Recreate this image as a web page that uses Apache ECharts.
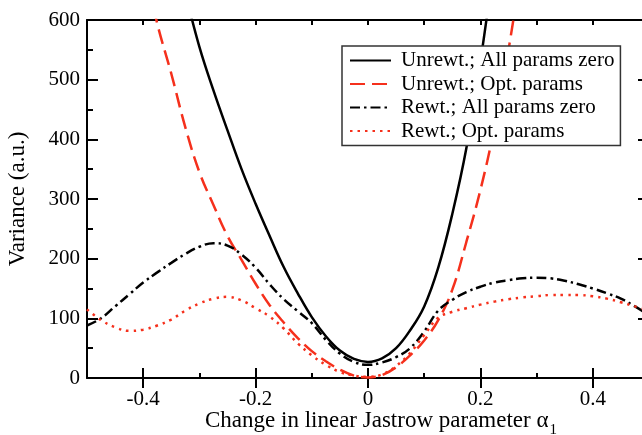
<!DOCTYPE html>
<html>
<head>
<meta charset="utf-8">
<title>Variance vs linear Jastrow parameter</title>
<script src="https://cdn.jsdelivr.net/npm/echarts@6/dist/echarts.min.js"></script>
<style>
  html, body { margin: 0; padding: 0; background: #fff; }
  #chart { width: 642px; height: 435px; }
</style>
</head>
<body>
<div id="chart"></div>
<script>
// change in alpha_1
const alpha = [-0.5, -0.475, -0.45, -0.425, -0.4, -0.375, -0.35, -0.325, -0.3, -0.275,
  -0.25, -0.225, -0.2, -0.175, -0.15, -0.125, -0.1, -0.075, -0.05, -0.025,
  0, 0.025, 0.05, 0.075, 0.1, 0.125, 0.15, 0.175, 0.2, 0.225,
  0.25, 0.275, 0.3, 0.325, 0.35, 0.375, 0.4, 0.425, 0.45, 0.475, 0.5]

// Unrewt.; All params zero
const unrewZero = [null, null, null, null, null, null, 740, 645, 555, 482,
  415, 350, 292, 238, 186, 142, 102, 70, 46, 32,
  27, 33, 50, 80, 120, 185, 275, 385, 530, 700,
  null, null, null, null, null, null, null, null, null, null, null]

// Unrewt.; Opt. params
const unrewOpt = [null, null, null, 800, 700, 594, 510, 420, 345, 290,
  238, 198, 158, 122, 93, 67, 45, 28, 14, 4,
  1, 5, 18, 38, 63, 97, 148, 228, 315, 420,
  550, 700, null, null, null, null, null, null, null, null, null]

// Rewt.; All params zero
const rewZero = [88, 100, 120, 140, 160, 177, 193, 208, 220, 226,
  222, 207, 185, 157, 132, 112, 92, 64, 41, 27,
  22, 26, 35, 50, 78, 113, 131, 144, 153, 160,
  164, 167, 168, 167, 163, 157, 150, 142, 133, 120, 105]

// Rewt.; Opt. params
const rewOpt = [115, 97, 85, 79, 81, 88, 98, 113, 125, 133,
  136, 130, 117, 103, 83, 58, 38, 22, 10, 4,
  2, 6, 20, 42, 72, 101, 111, 117, 123, 128,
  132, 135, 137, 139, 139, 139, 137, 133, 127, 120, 113]

const xLabels = [-0.4, -0.2, 0, 0.2, 0.4]
const xMajorTicks = [-0.4, -0.2, 0, 0.2, 0.4]

const chart = echarts.init(document.getElementById('chart'))
const serif = 'Liberation Serif, Times New Roman, serif'
const red = '#f5301c'

function pairs(ys) {
  return alpha.map((x, i) => [x, ys[i]])
}

function xAx(pos, opts) {
  return Object.assign({
    type: 'value',
    position: pos,
    min: -0.5,
    max: 0.5,
    interval: 0.1,
    axisLine: { show: true, onZero: false, lineStyle: { color: '#000', width: 2 } },
    axisTick: { show: true, inside: true, length: 5, lineStyle: { color: '#000', width: 2 } },
    axisLabel: { show: false },
    splitLine: { show: false }
  }, opts)
}

function yAx(pos, opts) {
  return Object.assign({
    type: 'value',
    position: pos,
    min: 0,
    max: 600,
    interval: 100,
    axisLine: { show: true, onZero: false, lineStyle: { color: '#000', width: 2 } },
    axisTick: { show: true, inside: true, length: 11, lineStyle: { color: '#000', width: 2 } },
    minorTick: { show: true, splitNumber: 2, length: 6, lineStyle: { color: '#000', width: 2 } },
    axisLabel: { show: false },
    splitLine: { show: false },
    minorSplitLine: { show: false }
  }, opts)
}

chart.setOption({
  animation: false,
  grid: {
    left: 87,
    top: 20,
    width: 562,
    height: 358,
    outerBoundsMode: 'none'
  },
  legend: {
    orient: 'vertical',
    left: 342,
    top: 46,
    padding: [4, 6, 4, 7],
    itemGap: 2.5,
    itemWidth: 41,
    itemHeight: 14,
    backgroundColor: '#fff',
    borderColor: '#333',
    borderWidth: 1.5,
    borderRadius: 0,
    itemStyle: { opacity: 0 },
    textStyle: { fontFamily: serif, fontSize: 21, color: '#000', lineHeight: 21, padding: [0, 0, 0, 5] },
    data: ['Unrewt.; All params zero', 'Unrewt.; Opt. params', 'Rewt.; All params zero', 'Rewt.; Opt. params']
  },
  xAxis: [
    xAx('bottom', {
      axisLabel: {
        show: true,
        customValues: xLabels,
        margin: 11,
        fontFamily: serif,
        fontSize: 21,
        color: '#000'
      },
      name: 'Change in linear Jastrow parameter α{s|1}',
      nameLocation: 'middle',
      nameGap: 26,
      nameMoveOverlap: false,
      nameTextStyle: {
        fontFamily: serif,
        fontSize: 23,
        color: '#000',
        padding: [0, 0, 0, 26],
        rich: {
          s: { fontFamily: serif, fontSize: 15, color: '#000', lineHeight: 34, verticalAlign: 'bottom', padding: [0, 0, 0, 1] }
        }
      }
    }),
    xAx('bottom', {
      axisLine: { show: false },
      axisTick: { show: true, inside: true, length: 10, customValues: xMajorTicks, lineStyle: { color: '#000', width: 2 } }
    }),
    xAx('top', {}),
    xAx('top', {
      axisLine: { show: false },
      axisTick: { show: true, inside: true, length: 10, customValues: xMajorTicks, lineStyle: { color: '#000', width: 2 } }
    })
  ],
  yAxis: [
    yAx('left', {
      axisLabel: { show: true, margin: 7, fontFamily: serif, fontSize: 21, color: '#000' },
      name: 'Variance (a.u.)',
      nameLocation: 'middle',
      nameGap: 58,
      nameMoveOverlap: false,
      nameTextStyle: { fontFamily: serif, fontSize: 23, color: '#000' }
    }),
    yAx('right', {})
  ],
  series: [
    {
      name: 'Unrewt.; All params zero',
      type: 'line',
      data: pairs(unrewZero),
      smooth: 0.4,
      symbol: 'none',
      clip: true,
      lineStyle: { color: '#000', width: 2.5 },
      itemStyle: { color: '#000' }
    },
    {
      name: 'Unrewt.; Opt. params',
      type: 'line',
      data: pairs(unrewOpt),
      smooth: 0.4,
      symbol: 'none',
      clip: true,
      lineStyle: { color: red, width: 2.5, type: [15, 7] },
      itemStyle: { color: red }
    },
    {
      name: 'Rewt.; All params zero',
      type: 'line',
      data: pairs(rewZero),
      smooth: 0.4,
      symbol: 'none',
      clip: true,
      lineStyle: { color: '#000', width: 2.5, type: [10, 4, 2.5, 4] },
      itemStyle: { color: '#000' }
    },
    {
      name: 'Rewt.; Opt. params',
      type: 'line',
      data: pairs(rewOpt),
      smooth: 0.4,
      symbol: 'none',
      clip: true,
      lineStyle: { color: red, width: 2.5, type: [2.5, 5] },
      itemStyle: { color: red }
    }
  ]
})
</script>
</body>
</html>
